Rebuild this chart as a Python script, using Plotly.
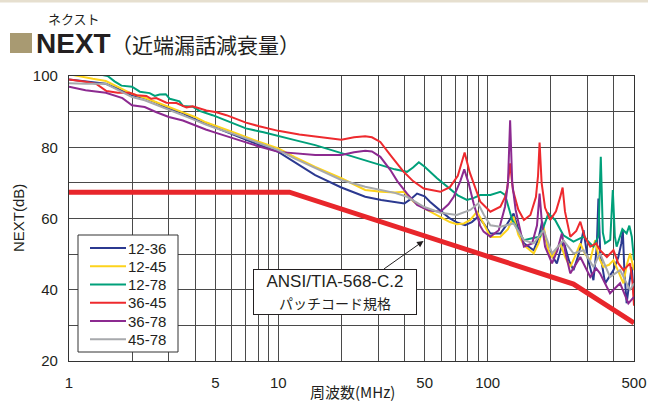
import math
import plotly.graph_objects as go

# ---- data ----
limit_freq = [1, 11.3, 100, 257, 500]
limit_next = [67.4, 67.4, 49.4, 41.6, 30.7]

freq_12_36 = [1, 1.2, 1.5, 1.7, 2, 2.3, 2.6, 3, 3.5, 4, 4.5, 5, 6, 7, 8, 10, 12, 15, 20, 26,
              31, 36, 40, 43, 46, 50, 53, 60, 66, 72, 78, 84, 90, 96, 103, 115, 124, 133, 141, 149,
              166, 175, 182, 188, 195, 214, 222, 230, 245, 257, 272, 287, 300, 320, 332, 338, 345,
              364, 399, 420, 435, 442, 450, 461, 475, 488, 500]
next_12_36 = [99.0, 98.4, 97.8, 96.5, 94.6, 93.8, 92.6, 90.8, 89.6, 87.8, 86.6, 85.5, 83.6, 82.0,
              80.8, 78.7, 75.8, 72.2, 68.7, 66.1, 65.2, 64.6, 64.2, 65.5, 67.0, 66.2, 64.7, 62.0,
              60.0, 58.8, 58.1, 59.0, 60.5, 58.5, 55.8, 55.8, 58.5, 61.4, 56.5, 53.0, 51.1, 54.5,
              59.1, 55.0, 51.1, 47.4, 50.5, 53.9, 48.0, 45.5, 50.0, 56.7, 49.0, 42.7, 52.0, 65.6,
              50.0, 41.8, 45.5, 49.0, 53.0, 56.7, 45.0, 36.2, 42.0, 46.4, 38.0]

freq_12_45 = [1, 1.1, 1.3, 1.5, 1.7, 2, 2.3, 2.6, 3, 3.5, 4, 4.5, 5, 6, 7, 8, 10, 12, 15, 20, 26,
              31, 36, 39.7, 42, 44.3, 50, 59.4, 66, 71.3, 77, 82.6, 88.9, 95.6, 103, 115, 125, 133,
              140, 149, 166, 175, 185, 195, 203, 212, 222, 235, 248, 262, 277, 292, 309, 326, 340,
              357, 380, 399, 420, 445, 462, 479, 500]
next_12_45 = [100.5, 100.0, 99.2, 98.6, 97.0, 95.0, 93.9, 92.6, 91.3, 89.8, 88.5, 87.0, 86.1, 84.4,
              82.9, 81.6, 79.7, 77.2, 74.5, 71.3, 68.0, 67.5, 67.3, 67.5, 66.0, 64.7, 62.8, 60.3,
              59.0, 58.4, 58.6, 59.6, 61.9, 58.6, 54.8, 54.9, 57.0, 60.5, 55.5, 52.5, 50.2, 53.0,
              57.7, 51.0, 49.2, 51.0, 53.0, 49.0, 46.4, 49.5, 53.0, 50.0, 48.3, 53.9, 49.0, 46.4,
              47.0, 48.3, 45.0, 41.8, 47.0, 50.2, 45.5]

freq_12_78 = [1, 1.3, 1.53, 1.65, 1.78, 2.0, 2.18, 2.43, 2.57, 2.71, 2.9, 3.03, 3.37, 3.5, 3.9,
              4.2, 4.85, 5.6, 7.0, 8.5, 10, 12, 15, 20, 26, 31, 36, 41.2, 44, 46.9, 50, 57.3, 65,
              72, 79.6, 86, 92, 103, 115, 121, 131, 149, 165, 178, 195, 210, 230, 257, 287, 320,
              338, 347, 355, 364, 385, 396, 405, 413, 440, 461, 475, 488, 500]
next_12_78 = [101.5, 100.8, 100.0, 98.5, 97.3, 97.0, 95.6, 95.2, 94.4, 94.8, 94.9, 93.6, 92.9,
              91.6, 91.4, 90.2, 89.0, 87.5, 85.3, 84.2, 83.1, 82.0, 80.6, 78.3, 76.4, 75.0, 73.8,
              73.1, 74.3, 75.8, 74.5, 71.3, 68.5, 66.5, 65.2, 65.8, 66.6, 66.6, 67.5, 66.6, 59.6,
              53.9, 54.5, 54.9, 61.4, 59.6, 55.3, 53.5, 54.9, 52.1, 55.0, 77.3, 56.0, 53.0, 54.0,
              68.0, 55.0, 52.1, 57.0, 55.8, 58.0, 54.9, 48.3]

freq_36_45 = [1, 1.2, 1.35, 1.51, 1.71, 1.95, 2.1, 2.34, 2.47, 2.61, 2.92, 3.26, 3.64, 3.9, 4.53,
              5.06, 5.65, 7, 8.1, 10, 12.6, 15, 17, 20, 23, 26, 28, 30.7, 34.3, 39.7, 44, 49.5,
              59.4, 66, 72, 77.6, 82, 85.7, 92.2, 103, 115, 121, 124, 128, 132, 140, 149, 160, 170,
              174, 177, 181, 188, 199, 212, 222, 228, 234, 248, 265, 277, 290, 309, 330, 344, 371,
              399, 420, 445, 479, 492, 500]
next_36_45 = [99.0, 98.4, 97.8, 95.8, 95.3, 95.3, 94.6, 94.4, 93.6, 93.8, 92.5, 92.4, 91.2, 91.5,
              90.3, 89.8, 89.0, 86.9, 85.9, 84.6, 83.6, 83.0, 82.6, 82.1, 82.8, 83.1, 82.8, 81.5,
              77.8, 73.1, 70.5, 68.4, 67.5, 68.8, 72.0, 78.5, 73.0, 69.9, 64.7, 61.9, 63.3, 66.0,
              68.5, 75.5, 68.0, 62.5, 59.6, 61.0, 66.0, 72.0, 81.3, 70.0, 63.0, 59.6, 62.0, 66.0,
              68.7, 62.0, 54.9, 56.5, 59.1, 55.0, 52.1, 53.0, 51.1, 49.2, 51.1, 47.5, 45.5, 47.4,
              42.0, 35.5]

freq_36_78 = [1, 1.2, 1.5, 1.8, 2, 2.3, 2.6, 3, 3.5, 4, 4.5, 5, 6, 7, 8, 10, 12, 15, 20, 23, 26,
              28, 30.7, 34.3, 37, 41.2, 46, 52, 59.4, 65, 68.8, 74, 77.3, 81, 85.7, 92, 95.6, 103,
              113, 121, 125, 128, 131, 136, 149, 163, 172, 177, 182, 188, 203, 215, 226, 236, 248,
              277, 309, 330, 344, 384, 429, 470, 500]
next_36_78 = [97.0, 96.0, 95.3, 93.8, 91.8, 91.3, 89.9, 88.5, 87.5, 86.1, 85.0, 84.1, 82.6, 81.5,
              80.3, 78.7, 78.2, 77.8, 77.8, 78.6, 79.0, 78.8, 77.3, 73.6, 70.5, 67.0, 63.8, 62.3,
              61.9, 64.0, 66.1, 70.5, 73.8, 70.0, 64.2, 58.0, 56.3, 54.9, 56.7, 63.3, 70.0, 87.6,
              70.0, 62.4, 52.1, 53.0, 58.0, 67.0, 58.0, 52.1, 47.4, 51.0, 55.8, 50.0, 44.6, 49.2,
              43.6, 46.0, 44.6, 39.0, 41.8, 36.2, 38.0]

freq_45_78 = [1, 1.2, 1.5, 1.8, 2, 2.3, 2.6, 3, 3.5, 4, 4.5, 5, 6, 7, 8, 10, 12, 15, 20, 26, 31,
              36, 41.2, 49.5, 59.4, 71.3, 82.6, 90, 96, 103, 115, 133, 149, 166, 185, 203, 230,
              257, 287, 320, 344, 384, 429, 479, 500]
next_45_78 = [98.0, 97.8, 97.8, 95.5, 94.1, 93.2, 92.0, 90.4, 89.0, 87.6, 86.4, 85.4, 83.9, 82.5,
              81.2, 79.2, 76.8, 74.1, 70.8, 68.9, 68.0, 67.2, 66.1, 63.3, 61.6, 61.0, 62.4, 64.2,
              61.0, 58.1, 57.7, 58.6, 53.9, 53.0, 56.7, 50.2, 53.9, 50.2, 51.1, 46.4, 50.2, 43.6,
              45.5, 39.9, 41.8]

series_names = ["12-36", "12-45", "12-78", "36-45", "36-78", "45-78"]
series_freq = [freq_12_36, freq_12_45, freq_12_78, freq_36_45, freq_36_78, freq_45_78]
series_next = [next_12_36, next_12_45, next_12_78, next_36_45, next_36_78, next_45_78]
series_colors = ["#2B3990", "#FDD31C", "#00A07A", "#EE2A2E", "#8C2A90", "#A7A9AC"]

x_ticks = [1, 5, 10, 50, 100, 500]
x_minor = [2, 3, 4, 6, 7, 8, 9, 20, 30, 40, 60, 70, 80, 90, 200, 300, 400]
y_ticks = [20, 40, 60, 80, 100]
y_minor = [30, 50, 70, 90]

GRID = "#4a4a4a"
TEXT = "#231F20"
CJK = "Noto Sans CJK JP"
LATIN = "Liberation Sans"

# plot area in pixels: left 69, right 634, top 76, bottom 361
def px_x(x):
    return (x - 69) / 565


def px_y(y):
    return (361 - y) / 285


def note(x, y, text, size, family=LATIN, **kw):
    d = dict(xref="paper", yref="paper", x=px_x(x), y=px_y(y), xanchor="center",
             yanchor="middle", showarrow=False, text=text,
             font=dict(family=family, size=size, color=TEXT))
    d.update(kw)
    return d


fig = go.Figure()

fig.add_trace(go.Scatter(x=limit_freq, y=limit_next, mode="lines",
                         line=dict(color="#E8262B", width=5), showlegend=False,
                         name="ANSI/TIA-568-C.2"))

for name, f, v, c in zip(series_names, series_freq, series_next, series_colors):
    fig.add_trace(go.Scatter(x=f, y=v, mode="lines", name=name,
                             line=dict(color=c, width=2), showlegend=False))

fig.update_xaxes(
    type="log", range=[0, math.log10(500)], automargin=False,
    tickvals=x_ticks, ticktext=[str(t) for t in x_ticks],
    showgrid=True, gridcolor=GRID, gridwidth=1.3,
    minor=dict(tickvals=x_minor, showgrid=True, gridcolor=GRID, gridwidth=1.3, ticks=""),
    showline=True, linecolor="#333", linewidth=1.3, mirror=True, ticks="",
    tickfont=dict(family=LATIN, size=15, color=TEXT), ticklabelstandoff=8, zeroline=False,
)
fig.update_yaxes(
    range=[20, 100], tickvals=y_ticks, automargin=False,
    showgrid=True, gridcolor=GRID, gridwidth=1.3,
    minor=dict(tickvals=y_minor, showgrid=True, gridcolor=GRID, gridwidth=1.3, ticks=""),
    showline=True, linecolor="#333", linewidth=1.3, mirror=True, ticks="",
    tickfont=dict(family=LATIN, size=15, color=TEXT), ticklabelstandoff=7, zeroline=False,
)

shapes = []
annotations = []

# top rule and title mark
shapes.append(dict(type="line", xref="paper", yref="paper", x0=px_x(0), x1=px_x(648),
                   y0=px_y(1), y1=px_y(1), line=dict(color="#E6DFCF", width=3)))
shapes.append(dict(type="rect", xref="paper", yref="paper", x0=px_x(10), x1=px_x(32),
                   y0=px_y(53), y1=px_y(33), fillcolor="#A89A72", line=dict(width=0)))
annotations.append(note(34, 43, "<b>NEXT</b>", 28, xanchor="left"))
annotations.append(note(109, 44, "（近端漏話減衰量）", 21, family=CJK, xanchor="left"))
annotations.append(note(74, 18, "ネクスト", 13, family=CJK))

# axis titles
annotations.append(note(18, 218, "NEXT(dB)", 15, textangle=-90))
annotations.append(note(352, 392, "周波数(MHz)", 15, family=CJK))

# standard label and arrow
annotations.append(dict(xref="x", yref="y", x=math.log10(49.4), y=53.7, ax=-41, ay=29,
                        axref="pixel", ayref="pixel", text="", showarrow=True, arrowhead=2,
                        arrowsize=1.3, arrowwidth=1, arrowcolor=TEXT, standoff=0))
annotations.append(note(334.5, 292,
                        "ANSI/TIA-568-C.2<br><span style='font-size:14px'>パッチコード規格</span>",
                        17, family=LATIN + ", " + CJK, width=158, height=40, borderpad=2,
                        bordercolor=TEXT, borderwidth=1, bgcolor="white"))

# legend box
shapes.append(dict(type="rect", xref="paper", yref="paper", x0=px_x(78), x1=px_x(178),
                   y0=px_y(352), y1=px_y(235), fillcolor="white",
                   line=dict(color="#333", width=1)))
for i, (name, c) in enumerate(zip(series_names, series_colors)):
    yc = 248 + i * 18.25
    shapes.append(dict(type="line", xref="paper", yref="paper", x0=px_x(90), x1=px_x(126),
                       y0=px_y(yc), y1=px_y(yc), line=dict(color=c, width=2)))
    annotations.append(note(126, yc, name, 15, xanchor="left"))

fig.update_layout(
    width=648, height=403,
    margin=dict(l=69, r=14, t=76, b=42),
    paper_bgcolor="white", plot_bgcolor="white",
    showlegend=False,
    shapes=shapes, annotations=annotations,
)

fig.write_html("out.html", config={"displayModeBar": False},
               post_script="document.body.style.margin = '0';")
